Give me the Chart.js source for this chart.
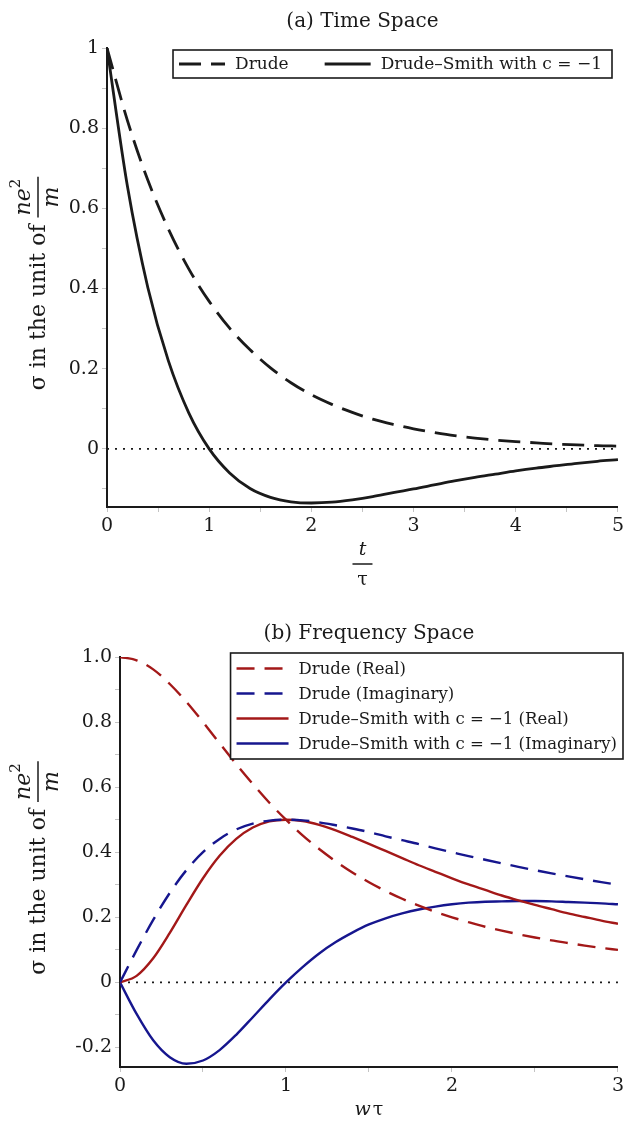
<!DOCTYPE html>
<html>
<head>
<meta charset="utf-8">
<script src="https://cdn.jsdelivr.net/npm/chart.js"></script>
<style>
  body { margin: 0; background: #fff; }
  canvas { position: absolute; left: 0; }
  #timeChart { top: 0; }
  #freqChart { top: 600px; }
</style>
</head>
<body>
<canvas id="timeChart" width="627" height="600"></canvas>
<canvas id="freqChart" width="627" height="524"></canvas>
<script>
// (a) time space, t / tau
const timeT = [0, 0.2, 0.4, 0.6, 0.8, 1.0, 1.2, 1.4, 1.6, 1.8, 2.0, 2.2, 2.4,
  2.6, 2.8, 3.0, 3.2, 3.4, 3.6, 3.8, 4.0, 4.2, 4.4, 4.6, 4.8, 5.0];
const drudeTime = [1, 0.819, 0.670, 0.549, 0.449, 0.368, 0.301, 0.247, 0.202,
  0.165, 0.135, 0.111, 0.091, 0.074, 0.061, 0.050, 0.041, 0.033, 0.027, 0.022,
  0.018, 0.015, 0.012, 0.010, 0.008, 0.007];
const smithTime = [1, 0.655, 0.402, 0.220, 0.090, 0, -0.060, -0.099, -0.121,
  -0.132, -0.135, -0.133, -0.127, -0.119, -0.109, -0.100, -0.090, -0.080,
  -0.071, -0.063, -0.055, -0.048, -0.042, -0.036, -0.031, -0.027];

// (b) frequency space, w * tau
const freqW = [0, 0.1, 0.2, 0.3, 0.4, 0.5, 0.6, 0.7, 0.8, 0.9, 1.0, 1.1, 1.2,
  1.3, 1.4, 1.5, 1.6, 1.7, 1.8, 1.9, 2.0, 2.1, 2.2, 2.3, 2.4, 2.5, 2.6, 2.7,
  2.8, 2.9, 3.0];
const drudeReal = [1, 0.990, 0.962, 0.917, 0.862, 0.800, 0.735, 0.671, 0.610,
  0.552, 0.500, 0.452, 0.410, 0.372, 0.338, 0.308, 0.281, 0.257, 0.236, 0.217,
  0.200, 0.185, 0.171, 0.159, 0.148, 0.138, 0.129, 0.121, 0.113, 0.106, 0.100];
const drudeImag = [0, 0.099, 0.192, 0.275, 0.345, 0.400, 0.441, 0.470, 0.488,
  0.497, 0.500, 0.498, 0.492, 0.483, 0.473, 0.462, 0.449, 0.437, 0.425, 0.412,
  0.400, 0.388, 0.377, 0.366, 0.355, 0.345, 0.335, 0.326, 0.317, 0.308, 0.300];
const smithReal = [0, 0.020, 0.074, 0.152, 0.238, 0.320, 0.389, 0.441, 0.476,
  0.495, 0.500, 0.496, 0.484, 0.467, 0.447, 0.426, 0.404, 0.382, 0.360, 0.340,
  0.320, 0.301, 0.284, 0.267, 0.252, 0.238, 0.225, 0.212, 0.201, 0.190, 0.180];
const smithImag = [0, -0.097, -0.178, -0.230, -0.250, -0.240, -0.208, -0.161,
  -0.107, -0.052, 0, 0.047, 0.089, 0.124, 0.153, 0.178, 0.197, 0.212, 0.224,
  0.233, 0.240, 0.245, 0.248, 0.249, 0.250, 0.250, 0.249, 0.247, 0.245, 0.243,
  0.240];

const FONT = '"DejaVu Serif", serif';
const INK = '#1a1a1a';
const RED = '#a31818';
const BLUE = '#16168e';

const pts = (xs, ys) => xs.map((x, i) => ({ x: x, y: ys[i] }));

function curve(label, xs, ys, color, dash, width) {
  return {
    label: label,
    data: pts(xs, ys),
    borderColor: color,
    borderWidth: width,
    borderDash: dash,
    pointRadius: 0,
    fill: false,
    cubicInterpolationMode: 'monotone',
    inLegend: true
  };
}

function zeroLine(x0, x1) {
  return {
    label: 'zero',
    data: [{ x: x0, y: 0 }, { x: x1, y: 0 }],
    borderColor: INK,
    borderWidth: 1.7,
    borderDash: [2, 6],
    pointRadius: 0,
    fill: false,
    inLegend: false
  };
}

function axisCommon(min, max, step, fmt, fitFn) {
  return {
    type: 'linear',
    min: min,
    max: max,
    afterFit: fitFn,
    border: { display: true, color: INK, width: 2 },
    grid: { display: true, drawOnChartArea: false, drawTicks: true, tickLength: 5, color: '#c4c4c4' },
    ticks: {
      stepSize: step,
      includeBounds: false,
      autoSkip: false,
      maxRotation: 0,
      padding: 3,
      color: INK,
      font: { family: FONT, size: 19 },
      callback: fmt
    }
  };
}

function drawYTitle(ctx, cx, cy) {
  const size = 22;
  ctx.save();
  ctx.translate(cx, cy);
  ctx.rotate(-Math.PI / 2);
  ctx.fillStyle = INK;
  ctx.strokeStyle = INK;
  ctx.textBaseline = 'middle';
  ctx.textAlign = 'left';
  const lead = 'σ in the unit of ';
  ctx.font = size + 'px ' + FONT;
  const w1 = ctx.measureText(lead).width;
  ctx.font = 'italic ' + size + 'px ' + FONT;
  const wNe = ctx.measureText('ne').width;
  const wM = ctx.measureText('m').width;
  ctx.font = '15px ' + FONT;
  const w2 = ctx.measureText('2').width;
  const wf = Math.max(wNe + w2, wM) + 4;
  const x0 = -(w1 + wf) / 2;
  ctx.font = size + 'px ' + FONT;
  ctx.fillText(lead, x0, 0);
  const fc = x0 + w1 + wf / 2;
  ctx.lineWidth = 1.5;
  ctx.beginPath();
  ctx.moveTo(fc - wf / 2, -1);
  ctx.lineTo(fc + wf / 2, -1);
  ctx.stroke();
  const nx = fc - (wNe + w2) / 2;
  ctx.font = 'italic ' + size + 'px ' + FONT;
  ctx.fillText('ne', nx, -15);
  ctx.font = '15px ' + FONT;
  ctx.fillText('2', nx + wNe, -23);
  ctx.font = 'italic ' + size + 'px ' + FONT;
  ctx.textAlign = 'center';
  ctx.fillText('m', fc, 13);
  ctx.restore();
}

function drawLegend(chart, box) {
  const ctx = chart.ctx;
  const items = chart.data.datasets.filter(d => d.inLegend);
  ctx.save();
  ctx.font = box.size + 'px ' + FONT;
  ctx.textBaseline = 'middle';
  ctx.textAlign = 'left';
  const widths = items.map(d => ctx.measureText(d.label).width);
  const sample = box.sample, gap = 10, pad = 6;
  let w, h;
  if (box.horizontal) {
    w = pad + widths.reduce((a, b) => a + sample + gap + b, 0) + box.itemGap * (items.length - 1) + pad + 4;
    h = box.rowH;
  } else {
    w = pad + sample + gap + Math.max(...widths) + pad;
    h = box.rowH * items.length + 6;
  }
  const left = box.right - w;
  ctx.fillStyle = '#fff';
  ctx.fillRect(left, box.top, w, h);
  ctx.lineWidth = 1.6;
  ctx.strokeStyle = INK;
  ctx.setLineDash([]);
  ctx.strokeRect(left, box.top, w, h);
  let x = left + pad;
  items.forEach((d, i) => {
    const y = box.horizontal ? box.top + h / 2 : box.top + 3 + box.rowH * (i + 0.5);
    const sx = box.horizontal ? x : left + pad;
    ctx.strokeStyle = d.borderColor;
    ctx.lineWidth = d.borderWidth;
    ctx.setLineDash(d.borderDash || []);
    ctx.beginPath();
    ctx.moveTo(sx, y);
    ctx.lineTo(sx + sample, y);
    ctx.stroke();
    ctx.setLineDash([]);
    ctx.fillStyle = INK;
    ctx.fillText(d.label, sx + sample + gap, y + 1);
    if (box.horizontal) x += sample + gap + widths[i] + box.itemGap;
  });
  ctx.restore();
}

function centerText(ctx, text, x, y, font) {
  ctx.font = font;
  ctx.fillStyle = INK;
  ctx.textAlign = 'center';
  ctx.textBaseline = 'middle';
  ctx.fillText(text, x, y);
}

// ---------- (a) Time Space ----------
const timeDecor = {
  id: 'timeDecor',
  afterDraw(chart) {
    const ctx = chart.ctx;
    const a = chart.chartArea;
    const cx = (a.left + a.right) / 2;
    ctx.save();
    centerText(ctx, '(a) Time Space', cx, 22, '20px ' + FONT);
    // t over tau
    centerText(ctx, 't', cx, 550, 'italic 19px ' + FONT);
    ctx.strokeStyle = INK;
    ctx.lineWidth = 1.5;
    ctx.beginPath();
    ctx.moveTo(cx - 10, 564);
    ctx.lineTo(cx + 10, 564);
    ctx.stroke();
    centerText(ctx, 'τ', cx, 580, '19px ' + FONT);
    ctx.restore();
    drawYTitle(ctx, 39, (a.top + a.bottom) / 2 + 6);
    drawLegend(chart, { right: 612, top: 50, rowH: 28, horizontal: true, sample: 46, itemGap: 36, size: 17 });
  }
};

new Chart(document.getElementById('timeChart'), {
  type: 'line',
  data: {
    datasets: [
      curve('Drude', timeT, drudeTime, INK, [22, 10], 2.8),
      curve('Drude–Smith with c = −1', timeT, smithTime, INK, [], 2.8),
      zeroLine(timeT[0], timeT[timeT.length - 1])
    ]
  },
  options: {
    responsive: false,
    animation: false,
    devicePixelRatio: 1,
    layout: { padding: { left: 0, right: 9, top: 48, bottom: 0 } },
    plugins: { legend: { display: false }, tooltip: { enabled: false }, title: { display: false } },
    scales: {
      x: axisCommon(0, 5, 0.5, v => (Math.abs(v - Math.round(v)) < 1e-6 ? String(Math.round(v)) : ''),
        s => { s.height = 93; }),
      y: axisCommon(-0.145, 1, 0.1, v => {
        const k = Math.round(v * 10);
        if (k % 2 !== 0) return '';
        if (k === 0) return '0';
        if (k === 10) return '1';
        return (k / 10).toFixed(1);
      }, s => { s.width = 107; })
    }
  },
  plugins: [timeDecor]
});

// ---------- (b) Frequency Space ----------
const freqDecor = {
  id: 'freqDecor',
  afterDraw(chart) {
    const ctx = chart.ctx;
    const a = chart.chartArea;
    const cx = (a.left + a.right) / 2;
    ctx.save();
    centerText(ctx, '(b) Frequency Space', cx, 34, '20px ' + FONT);
    ctx.font = 'italic 19px ' + FONT;
    const ww = ctx.measureText('w').width;
    ctx.font = '19px ' + FONT;
    const wt = ctx.measureText('τ').width;
    const x0 = cx - (ww + wt + 2) / 2;
    ctx.textAlign = 'left';
    ctx.textBaseline = 'middle';
    ctx.fillStyle = INK;
    ctx.font = 'italic 19px ' + FONT;
    ctx.fillText('w', x0, 510);
    ctx.font = '19px ' + FONT;
    ctx.fillText('τ', x0 + ww + 2, 510);
    ctx.restore();
    drawYTitle(ctx, 39, (a.top + a.bottom) / 2 + 6);
    drawLegend(chart, { right: 623, top: 53, rowH: 25, horizontal: false, sample: 52, size: 16.5 });
  }
};

new Chart(document.getElementById('freqChart'), {
  type: 'line',
  data: {
    datasets: [
      curve('Drude (Real)', freqW, drudeReal, RED, [18, 10], 2.4),
      curve('Drude (Imaginary)', freqW, drudeImag, BLUE, [18, 10], 2.4),
      curve('Drude–Smith with c = −1 (Real)', freqW, smithReal, RED, [], 2.4),
      curve('Drude–Smith with c = −1 (Imaginary)', freqW, smithImag, BLUE, [], 2.4),
      zeroLine(freqW[0], freqW[freqW.length - 1])
    ]
  },
  options: {
    responsive: false,
    animation: false,
    devicePixelRatio: 1,
    layout: { padding: { left: 0, right: 7, top: 57, bottom: 0 } },
    plugins: { legend: { display: false }, tooltip: { enabled: false }, title: { display: false } },
    scales: {
      x: axisCommon(0, 3, 0.5, v => (Math.abs(v - Math.round(v)) < 1e-6 ? String(Math.round(v)) : ''),
        s => { s.height = 57; }),
      y: axisCommon(-0.26, 1, 0.1, v => {
        const k = Math.round(v * 10);
        if (k % 2 !== 0) return '';
        if (k === 0) return '0';
        return (k / 10).toFixed(1);
      }, s => { s.width = 120; })
    }
  },
  plugins: [freqDecor]
});
</script>
</body>
</html>
